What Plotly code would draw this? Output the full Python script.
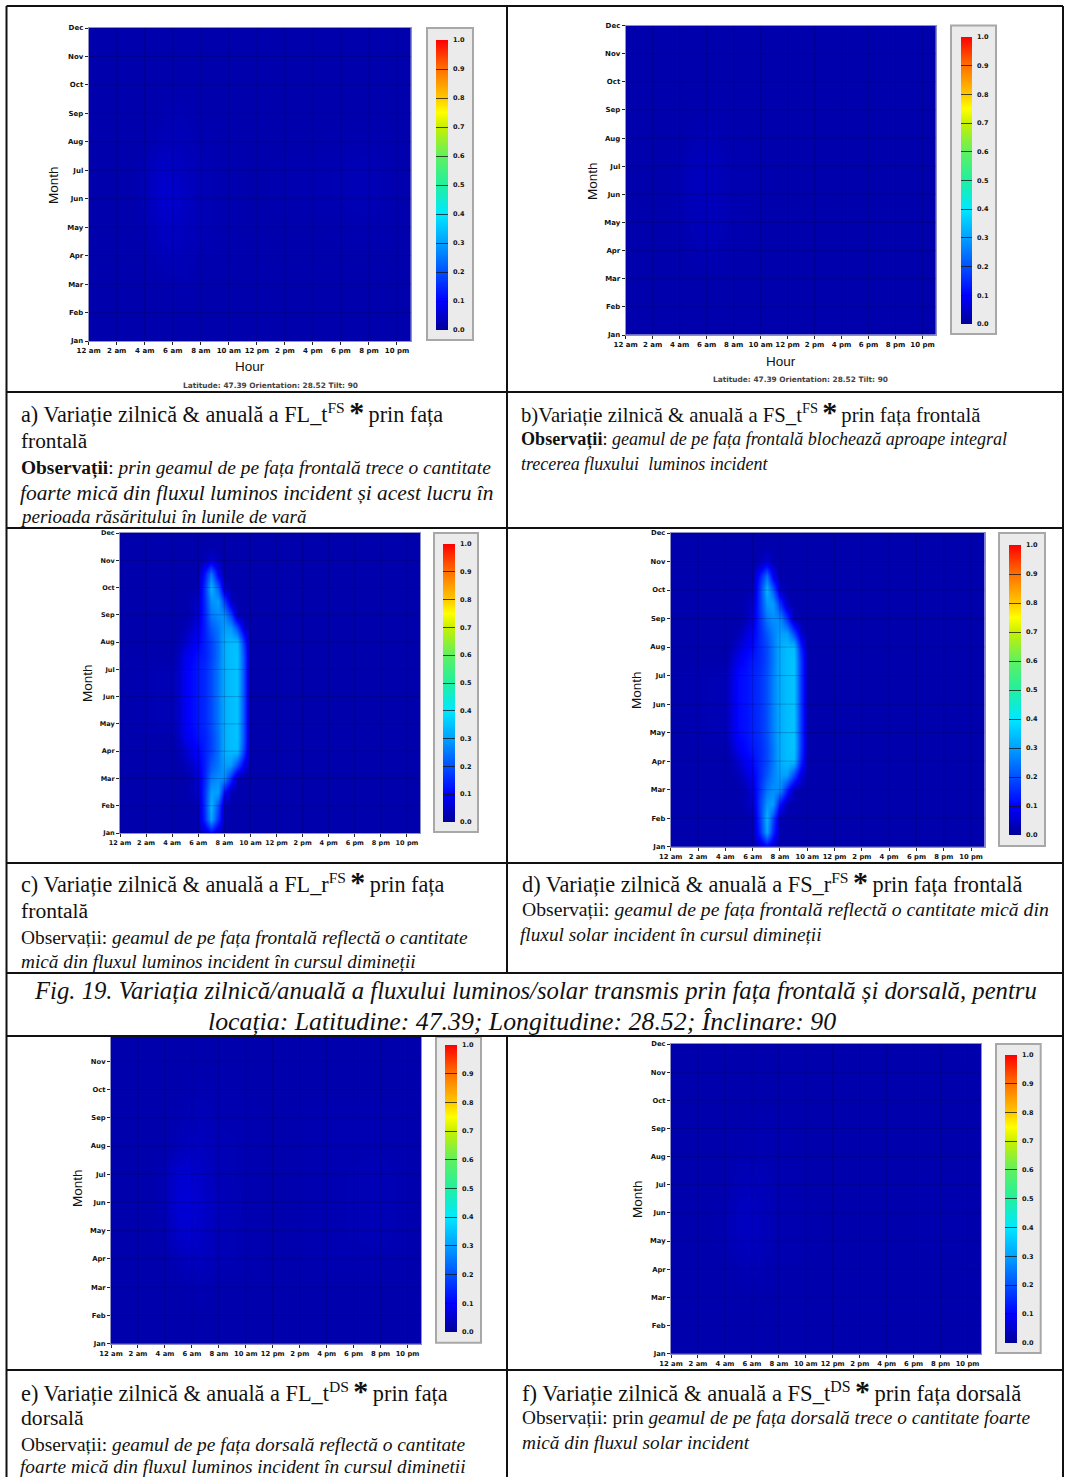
import plotly.graph_objects as go

W, H = 1065, 1477
MONTHS = ["Jan","Feb","Mar","Apr","May","Jun","Jul","Aug","Sep","Oct","Nov","Dec"]
MONTH_POS = list(range(12))
HOUR_TICKS = [0,2,4,6,8,10,12,14,16,18,20,22]
HOUR_LABELS = ["12 am","2 am","4 am","6 am","8 am","10 am","12 pm","2 pm","4 pm","6 pm","8 pm","10 pm"]
BAR_TICKS = [0,0.1,0.2,0.3,0.4,0.5,0.6,0.7,0.8,0.9,1.0]

# ---- nearly empty panels: coarse hours, one row per month
FLAT_HOURS = [0,3,4,5,6,7,8,10,12,16,20,23]
Z_A = [
 [.02,.02,.02,.02,.02,.02,.02,.02,.02,.02,.02,.02],
 [.02,.02,.02,.02,.02,.02,.02,.02,.02,.02,.02,.02],
 [.02,.02,.02,.02,.025,.025,.02,.02,.02,.02,.02,.02],
 [.02,.02,.02,.03,.035,.03,.025,.022,.02,.02,.02,.02],
 [.02,.02,.025,.04,.045,.035,.03,.022,.02,.02,.025,.02],
 [.02,.02,.03,.05,.055,.04,.03,.022,.02,.025,.03,.02],
 [.02,.02,.03,.045,.045,.035,.03,.022,.02,.025,.03,.02],
 [.02,.02,.02,.03,.035,.03,.025,.022,.02,.02,.025,.02],
 [.02,.02,.02,.02,.03,.025,.022,.02,.02,.02,.02,.02],
 [.02,.02,.02,.02,.02,.02,.02,.02,.02,.02,.02,.02],
 [.02,.02,.02,.02,.02,.02,.02,.02,.02,.02,.02,.02],
 [.02,.02,.02,.02,.02,.02,.02,.02,.02,.02,.02,.02],
]
Z_B = [
 [.02,.02,.02,.02,.02,.02,.02,.02,.02,.02,.02,.02],
 [.02,.02,.02,.02,.02,.02,.02,.02,.02,.02,.02,.02],
 [.02,.02,.02,.02,.02,.02,.02,.02,.02,.02,.02,.02],
 [.02,.02,.02,.025,.03,.025,.022,.02,.02,.02,.02,.02],
 [.02,.02,.022,.03,.035,.03,.025,.02,.02,.02,.02,.02],
 [.02,.02,.025,.035,.035,.03,.025,.022,.02,.02,.02,.02],
 [.02,.02,.025,.035,.035,.03,.025,.022,.02,.02,.02,.02],
 [.02,.02,.02,.025,.03,.025,.022,.02,.02,.02,.02,.02],
 [.02,.02,.02,.02,.022,.022,.02,.02,.02,.02,.02,.02],
 [.02,.02,.02,.02,.02,.02,.02,.02,.02,.02,.02,.02],
 [.02,.02,.02,.02,.02,.02,.02,.02,.02,.02,.02,.02],
 [.02,.02,.02,.02,.02,.02,.02,.02,.02,.02,.02,.02],
]
Z_E = [
 [.02,.02,.02,.02,.02,.02,.02,.02,.02,.02,.02,.02],
 [.02,.02,.02,.02,.02,.02,.02,.02,.02,.02,.02,.02],
 [.02,.02,.02,.02,.025,.025,.02,.02,.02,.02,.02,.02],
 [.02,.02,.02,.03,.04,.035,.03,.025,.02,.025,.025,.02],
 [.02,.02,.025,.05,.055,.04,.03,.025,.02,.025,.03,.02],
 [.02,.02,.03,.06,.06,.045,.035,.025,.02,.025,.03,.02],
 [.02,.02,.03,.055,.055,.04,.03,.025,.02,.025,.03,.02],
 [.02,.02,.02,.03,.04,.035,.03,.025,.02,.025,.025,.02],
 [.02,.02,.02,.025,.03,.03,.025,.025,.02,.025,.025,.02],
 [.02,.02,.02,.02,.025,.025,.025,.02,.02,.02,.02,.02],
 [.02,.02,.02,.02,.02,.02,.02,.02,.02,.02,.02,.02],
 [.02,.02,.02,.02,.02,.02,.02,.02,.02,.02,.02,.02],
]
Z_F = [
 [.02,.02,.02,.02,.02,.02,.02,.02,.02,.02,.02,.02],
 [.02,.02,.02,.02,.02,.02,.02,.02,.02,.02,.02,.02],
 [.02,.02,.02,.02,.02,.02,.02,.02,.02,.02,.02,.02],
 [.02,.02,.02,.025,.03,.025,.022,.02,.02,.02,.02,.02],
 [.02,.02,.025,.035,.04,.03,.025,.022,.02,.02,.022,.02],
 [.02,.02,.025,.04,.04,.03,.025,.022,.02,.02,.022,.02],
 [.02,.02,.022,.03,.035,.03,.025,.02,.02,.02,.022,.02],
 [.02,.02,.02,.025,.025,.025,.022,.02,.02,.02,.02,.02],
 [.02,.02,.02,.02,.025,.025,.022,.02,.02,.02,.02,.02],
 [.02,.02,.02,.02,.02,.02,.02,.02,.02,.02,.02,.02],
 [.02,.02,.02,.02,.02,.02,.02,.02,.02,.02,.02,.02],
 [.02,.02,.02,.02,.02,.02,.02,.02,.02,.02,.02,.02],
]

# ---- reflected-flux panels: half-hour columns in the morning, half-month rows
PLUME_HOURS = [0,4,4.5,5,5.5,6,6.5,7,7.5,8,8.5,9,9.5,10,10.5,23]
PLUME_MONTHS = [0,.5,1,1.5,2,2.5,3,3.5,4,4.5,5,5.5,6,6.5,7,7.5,8,8.5,9,9.5,10,10.5,11]
Z_C = [
 [.02,.02,.02,.02,.02,.02,.05,.10,.05,.02,.02,.02,.02,.02,.02,.02],
 [.02,.02,.02,.02,.02,.03,.16,.31,.16,.03,.02,.02,.02,.02,.02,.02],
 [.02,.02,.02,.02,.02,.03,.17,.33,.20,.03,.02,.02,.02,.02,.02,.02],
 [.02,.02,.02,.02,.03,.05,.17,.30,.30,.12,.03,.02,.02,.02,.02,.02],
 [.02,.02,.02,.02,.03,.06,.15,.25,.28,.28,.15,.03,.02,.02,.02,.02],
 [.02,.02,.02,.03,.05,.08,.14,.21,.25,.30,.29,.20,.08,.02,.02,.02],
 [.02,.02,.03,.05,.08,.10,.14,.18,.24,.32,.34,.34,.17,.02,.02,.02],
 [.02,.02,.04,.08,.10,.12,.14,.18,.24,.32,.34,.35,.19,.02,.02,.02],
 [.02,.03,.05,.09,.11,.13,.15,.19,.25,.32,.34,.35,.19,.02,.02,.02],
 [.02,.03,.05,.09,.11,.13,.15,.19,.25,.32,.34,.35,.19,.02,.02,.02],
 [.02,.03,.05,.09,.11,.13,.15,.19,.25,.32,.34,.35,.19,.02,.02,.02],
 [.02,.03,.05,.09,.11,.13,.15,.19,.25,.32,.34,.35,.19,.02,.02,.02],
 [.02,.03,.05,.09,.11,.13,.15,.19,.25,.32,.34,.35,.19,.02,.02,.02],
 [.02,.02,.04,.08,.10,.12,.14,.18,.24,.32,.34,.35,.19,.02,.02,.02],
 [.02,.02,.03,.05,.08,.10,.14,.18,.24,.32,.34,.34,.16,.02,.02,.02],
 [.02,.02,.02,.03,.05,.08,.14,.21,.25,.30,.29,.20,.05,.02,.02,.02],
 [.02,.02,.02,.02,.03,.06,.15,.25,.28,.28,.18,.03,.02,.02,.02,.02],
 [.02,.02,.02,.02,.03,.05,.16,.28,.30,.18,.04,.02,.02,.02,.02,.02],
 [.02,.02,.02,.02,.02,.03,.17,.33,.22,.05,.02,.02,.02,.02,.02,.02],
 [.02,.02,.02,.02,.02,.02,.13,.25,.09,.02,.02,.02,.02,.02,.02,.02],
 [.02,.02,.02,.02,.02,.02,.03,.06,.03,.02,.02,.02,.02,.02,.02,.02],
 [.02,.02,.02,.02,.02,.02,.02,.02,.02,.02,.02,.02,.02,.02,.02,.02],
 [.02,.02,.02,.02,.02,.02,.02,.02,.02,.02,.02,.02,.02,.02,.02,.02],
]
Z_D = [
 [.02,.02,.02,.02,.02,.02,.05,.09,.05,.02,.02,.02,.02,.02,.02,.02],
 [.02,.02,.02,.02,.02,.03,.15,.31,.15,.03,.02,.02,.02,.02,.02,.02],
 [.02,.02,.02,.02,.02,.03,.17,.33,.19,.03,.02,.02,.02,.02,.02,.02],
 [.02,.02,.02,.02,.03,.05,.18,.29,.30,.12,.03,.02,.02,.02,.02,.02],
 [.02,.02,.02,.02,.03,.07,.16,.25,.28,.28,.14,.03,.02,.02,.02,.02],
 [.02,.02,.02,.03,.06,.09,.15,.21,.26,.30,.30,.19,.07,.02,.02,.02],
 [.02,.02,.03,.06,.09,.11,.15,.19,.25,.32,.34,.34,.15,.02,.02,.02],
 [.02,.02,.05,.09,.11,.13,.15,.19,.25,.32,.34,.35,.17,.02,.02,.02],
 [.02,.03,.07,.11,.12,.14,.16,.20,.26,.32,.34,.35,.17,.02,.02,.02],
 [.02,.03,.07,.11,.12,.14,.16,.20,.26,.32,.34,.35,.17,.02,.02,.02],
 [.02,.03,.07,.11,.12,.14,.16,.20,.26,.32,.34,.35,.17,.02,.02,.02],
 [.02,.03,.07,.11,.12,.14,.16,.20,.26,.32,.34,.35,.17,.02,.02,.02],
 [.02,.03,.07,.11,.12,.14,.16,.20,.26,.32,.34,.35,.17,.02,.02,.02],
 [.02,.02,.05,.09,.11,.13,.15,.19,.25,.32,.34,.35,.17,.02,.02,.02],
 [.02,.02,.03,.06,.09,.11,.15,.19,.25,.32,.34,.34,.14,.02,.02,.02],
 [.02,.02,.02,.03,.06,.09,.15,.21,.26,.30,.30,.19,.05,.02,.02,.02],
 [.02,.02,.02,.02,.03,.07,.16,.25,.28,.28,.17,.03,.02,.02,.02,.02],
 [.02,.02,.02,.02,.03,.05,.17,.29,.30,.17,.04,.02,.02,.02,.02,.02],
 [.02,.02,.02,.02,.02,.03,.17,.33,.22,.05,.02,.02,.02,.02,.02,.02],
 [.02,.02,.02,.02,.02,.02,.13,.24,.09,.02,.02,.02,.02,.02,.02,.02],
 [.02,.02,.02,.02,.02,.02,.03,.06,.03,.02,.02,.02,.02,.02,.02,.02],
 [.02,.02,.02,.02,.02,.02,.02,.02,.02,.02,.02,.02,.02,.02,.02,.02],
 [.02,.02,.02,.02,.02,.02,.02,.02,.02,.02,.02,.02,.02,.02,.02,.02],
]

JET = [[0,"#000098"],[.1,"#0000ff"],[.2,"#0050ff"],[.3,"#00a0ff"],[.4,"#00e8ff"],[.5,"#20f0a0"],
       [.6,"#60f060"],[.7,"#c8f000"],[.75,"#ffff00"],[.8,"#ffc800"],[.9,"#ff7000"],[1,"#ff0000"]]

def fx(px): return px / W
def fy(py): return 1 - py / H

# panel pixel geometry
PANELS = [
 dict(id="", z=Z_A, xs=FLAT_HOURS, ys=MONTH_POS, plot=(88.7,411,28,341), box=(427,473,28,340), bar=(436,448,40,330),
      month=(53,185), hour=(250,367), lat=(270,386), tf=7, ymax=11),
 dict(id="2", z=Z_B, xs=FLAT_HOURS, ys=MONTH_POS, plot=(625.7,936,25.5,335), box=(951,996,25.5,334), bar=(961,972,37,324),
      month=(592,181), hour=(781,361), lat=(800,379), tf=7, ymax=11),
 dict(id="3", z=Z_C, xs=PLUME_HOURS, ys=PLUME_MONTHS, plot=(120,420,533,833), box=(434,478,533,832), bar=(443,455,544,822),
      month=(87,683), tf=6.5, ymax=11),
 dict(id="4", z=Z_D, xs=PLUME_HOURS, ys=PLUME_MONTHS, plot=(670.7,984.7,533,846.7), box=(999,1045,533,846), bar=(1009,1021,545,835),
      month=(636,690), tf=6.8, ymax=11),
 dict(id="5", z=Z_E, xs=FLAT_HOURS, ys=MONTH_POS, plot=(111,421,1037,1343.7), box=(436,481,1037,1342.7), bar=(445,457,1044.7,1332),
      month=(77,1188), tf=6.8, ymax=10.86),
 dict(id="6", z=Z_F, xs=FLAT_HOURS, ys=MONTH_POS, plot=(671,981,1044,1353.7), box=(996,1040.7,1044,1353), bar=(1005,1017,1055,1342.7),
      month=(637,1199), tf=6.8, ymax=11),
]

fig = go.Figure()
layout = {}
shapes, annotations = [], []
BOLD = dict(family="DejaVu Sans", color="#111111", weight="bold")

for p in PANELS:
    xa, ya = "x" + p["id"], "y" + p["id"]
    x0, x1, y0, y1 = p["plot"]
    bx0, bx1, by0, by1 = p["bar"]
    fig.add_trace(go.Heatmap(
        x=p["xs"], y=p["ys"], z=p["z"], xaxis=xa, yaxis=ya, zmin=0, zmax=1, zsmooth="best",
        colorscale=JET, hoverinfo="skip",
        colorbar=dict(x=fx(bx0), xanchor="left", xpad=0, ypad=0, y=fy(by1), yanchor="bottom",
                      thicknessmode="pixels", thickness=bx1-bx0, lenmode="pixels", len=by1-by0,
                      outlinewidth=0, borderwidth=0, bgcolor="rgba(0,0,0,0)",
                      tickmode="array", tickvals=BAR_TICKS, ticktext=[f"\u2002{v:.1f}" for v in BAR_TICKS],
                      ticks="inside", ticklen=bx1-bx0, tickwidth=1, tickcolor="rgba(20,20,20,0.75)",
                      tickfont=dict(size=6.5, **BOLD))))
    # faint grid over the image, taken from the tick arrays
    gx, gy = [], []
    for t in HOUR_TICKS:
        gx += [t, t, None]; gy += [0, p["ymax"], None]
    for m in MONTH_POS:
        if m <= p["ymax"]:
            gx += [0, 23, None]; gy += [m, m, None]
    fig.add_trace(go.Scatter(x=gx, y=gy, xaxis=xa, yaxis=ya, mode="lines", showlegend=False, hoverinfo="skip",
                             line=dict(color="rgba(0,0,60,0.22)", width=1)))
    common = dict(showgrid=False, zeroline=False, showline=True, mirror=True, linecolor="#8f8fc8", linewidth=1,
                  ticks="outside", ticklen=3, tickwidth=1, tickcolor="#222222",
                  tickfont=dict(size=p["tf"], **BOLD), tickmode="array")
    layout["xaxis" + p["id"]] = dict(domain=[fx(x0), fx(x1)], range=[0, 23], anchor=ya,
                                     tickvals=HOUR_TICKS, ticktext=HOUR_LABELS, tickangle=0, **common)
    layout["yaxis" + p["id"]] = dict(domain=[fy(y1), fy(y0)], range=[0, p["ymax"]], anchor=xa,
                                     tickvals=MONTH_POS, ticktext=MONTHS, **common)
    b0, b1, c0, c1 = p["box"]
    shapes.append(dict(type="rect", xref="paper", yref="paper", x0=fx(b0), x1=fx(b1), y0=fy(c1), y1=fy(c0),
                       fillcolor="#ebebeb", line=dict(color="#a8a8a8", width=2)))
    mx, my = p["month"]
    annotations.append(dict(text="Month", x=fx(mx), y=fy(my), textangle=-90,
                            font=dict(family="Liberation Sans", size=13.5, color="#111111")))
    if "hour" in p:
        annotations.append(dict(text="Hour", x=fx(p["hour"][0]), y=fy(p["hour"][1]),
                                font=dict(family="Liberation Sans", size=13.5, color="#111111")))
        annotations.append(dict(text="Latitude: 47.39 Orientation: 28.52 Tilt: 90", x=fx(p["lat"][0]), y=fy(p["lat"][1]),
                                font=dict(family="DejaVu Sans", size=7.4, color="#444444", weight="bold")))

# table rules
RULES = [(6.5,6,1063,6),(6.5,392,1063,392),(6.5,528,1063,528),(6.5,863,1063,863),(6.5,973,1063,973),
         (6.5,1036,1063,1036),(6.5,1370,1063,1370),(6.5,6,6.5,1477),(1063,6,1063,1477),
         (507,6,507,973),(507,1036,507,1477)]
for a, b, c, d in RULES:
    shapes.append(dict(type="line", xref="paper", yref="paper", x0=fx(a), y0=fy(b), x1=fx(c), y1=fy(d),
                       line=dict(color="#111111", width=2)))

STAR = '\u2009<span style="font-size:30px"><b>*</b></span>\u2009'
TEXTS = [
 (19,412,22.2,f"a) Variație zilnică &amp; anuală a FL_t<sup>FS</sup>{STAR}prin fața"),
 (19,441,21.3,"frontală"),
 (19,468,19.4,"<b>Observații</b>: <i>prin geamul de pe fața frontală trece o cantitate</i>"),
 (18,493,21.4,"<i>foarte mică din fluxul luminos incident și acest lucru în</i>"),
 (18,516,19,"<i>perioada răsăritului în lunile de vară</i>"),
 (519,412,20.7,f"b)Variație zilnică &amp; anuală a FS_t<sup>FS</sup>{STAR}prin fața frontală"),
 (519,439,18.1,"<b>Observații</b>: <i>geamul de pe fața frontală blochează aproape integral</i>"),
 (519,464,18,"<i>trecerea fluxului  luminos incident</i>"),
 (19,882,22.2,f"c) Variație zilnică &amp; anuală a FL_r<sup>FS</sup>{STAR}prin fața"),
 (19,911,21.6,"frontală"),
 (19,937,19.4,"Observații: <i>geamul de pe fața frontală reflectă o cantitate</i>"),
 (19,961,19.3,"<i>mică din fluxul luminos incident în cursul dimineții</i>"),
 (520,882,22.3,f"d) Variație zilnică &amp; anuală a FS_r<sup>FS</sup>{STAR}prin fața frontală"),
 (520,909,19.7,"Observații: <i>geamul de pe fața frontală reflectă o cantitate mică din</i>"),
 (518,934,19.3,"<i>fluxul solar incident în cursul dimineții</i>"),
 (19,1390,22.3,f"e) Variație zilnică &amp; anuală a FL_t<sup>DS</sup>{STAR}prin fața"),
 (19,1418,21.7,"dorsală"),
 (19,1444,19.4,"Observații: <i>geamul de pe fața dorsală reflectă o cantitate</i>"),
 (18,1466,19.3,"<i>foarte mică din fluxul luminos incident în cursul diminetii</i>"),
 (520,1390,22.6,f"f) Variație zilnică &amp; anuală a FS_t<sup>DS</sup>{STAR}prin fața dorsală"),
 (520,1417,19.3,"Observații: prin <i>geamul de pe fața dorsală trece o cantitate foarte</i>"),
 (520,1442,19.3,"<i>mică din fluxul solar incident</i>"),
]
for x, y, s, t in TEXTS:
    annotations.append(dict(text=t, x=fx(x), y=fy(y), xanchor="left", align="left",
                            font=dict(family="Liberation Serif", size=s, color="#111111")))
CAPTIONS = [(535.5,991,24.7,"Fig. 19. Variația zilnică/anuală a fluxului luminos/solar transmis prin fața frontală și dorsală, pentru"),
            (521.5,1021,25.8,"locația: Latitudine: 47.39; Longitudine: 28.52; Înclinare: 90")]
for x, y, s, t in CAPTIONS:
    annotations.append(dict(text=f"<i>{t}</i>", x=fx(x), y=fy(y),
                            font=dict(family="Liberation Serif", size=s, color="#111111")))
for a in annotations:
    a.update(xref="paper", yref="paper", showarrow=False, yanchor="middle", xanchor=a.get("xanchor", "center"))

fig.update_layout(width=W, height=H, margin=dict(l=0, r=0, t=0, b=0, pad=0, autoexpand=False),
                  paper_bgcolor="white", plot_bgcolor="white", showlegend=False,
                  shapes=shapes, annotations=annotations, **layout)
fig.write_html("out.html", config=dict(displayModeBar=False), post_script="document.body.style.margin='0';")
